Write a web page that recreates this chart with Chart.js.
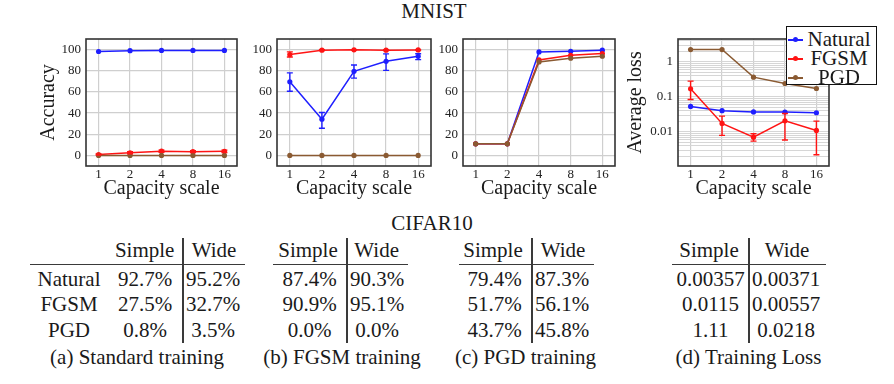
<!DOCTYPE html>
<html lang="en">
<head>
<meta charset="UTF-8">
<title>MNIST capacity scale / CIFAR10</title>
<script src="https://cdn.jsdelivr.net/npm/chart.js@4.4.1/dist/chart.umd.min.js"></script>
<style>
  * { box-sizing: border-box; }
  html, body { margin: 0; padding: 0; background: #fff; }
  body {
    width: 894px; height: 384px; position: relative; overflow: hidden;
    font-family: "Liberation Serif", "DejaVu Serif", serif; color: #1a1a1a;
  }
  canvas { position: absolute; }
  .txt { position: absolute; white-space: nowrap; text-align: center; height: 24px; line-height: 24px; font-size: 21px; }
  .rule { position: absolute; background: #3a3a3a; }
  #legend { position: absolute; left: 786px; top: 26px; width: 91px; height: 59px; border: 1.5px solid #111; background: #fff; }
  #legend .row { position: absolute; left: 0; width: 100%; height: 19px; }
  #legend .line { position: absolute; left: 1px; top: 9px; width: 15px; height: 1.5px; }
  #legend .dot { position: absolute; left: 6px; top: 7px; width: 5px; height: 5px; border-radius: 50%; }
  #legend .lab { position: absolute; left: 17px; width: 70px; top: 0; height: 19px; line-height: 19px; font-size: 21px; text-align: center; }
</style>
</head>
<body>
<canvas id="c1" width="211" height="175" style="left:30px;top:30px"></canvas>
<canvas id="c2" width="214" height="175" style="left:221px;top:30px"></canvas>
<canvas id="c3" width="212" height="175" style="left:407px;top:30px"></canvas>
<canvas id="c4" width="211" height="175" style="left:622px;top:30px"></canvas>
<div id="legend"></div>

<script>
// ---- data ----
const xLabels = ['1', '2', '4', '8', '16'];
const seriesNames = ['Natural', 'FGSM', 'PGD'];
const seriesColors = ['#1f1fff', '#ff1414', '#8a5a32'];

// (a) standard training, accuracy
const stdNatural = [98.2, 99.0, 99.2, 99.2, 99.2];
const stdFgsm = [0.8, 2.5, 4.0, 3.5, 3.9];
const stdFgsmLo = [0.3, 1.6, 3.0, 2.7, 2.8];
const stdFgsmHi = [1.4, 3.4, 5.0, 4.4, 5.0];
const stdPgd = [0, 0, 0, 0, 0];

// (b) FGSM training, accuracy
const fgsmNatural = [69.5, 34.2, 79.5, 88.9, 93.7];
const fgsmNaturalLo = [60.7, 25.6, 73.0, 80.4, 90.5];
const fgsmNaturalHi = [78.0, 40.5, 85.4, 95.9, 96.0];
const fgsmFgsm = [95.3, 99.4, 99.8, 99.4, 99.7];
const fgsmFgsmLo = [93.0, 99.0, 99.5, 99.0, 99.4];
const fgsmFgsmHi = [97.8, 99.8, 100, 99.8, 100];
const fgsmPgd = [0, 0, 0, 0, 0];

// (c) PGD training, accuracy
const pgdNatural = [11, 11, 97.8, 98.4, 99.4];
const pgdFgsm = [11, 11, 90.2, 94.6, 96.2];
const pgdPgd = [11, 11, 88.3, 91.8, 93.7];

// (d) average training loss
const lossNatural = [0.053, 0.040, 0.037, 0.0365, 0.035];
const lossFgsm = [0.17, 0.0173, 0.0070, 0.0206, 0.0109];
const lossFgsmLo = [0.084, 0.0079, 0.0054, 0.0058, 0.0022];
const lossFgsmHi = [0.28, 0.028, 0.0088, 0.0334, 0.0202];
const lossPgd = [2.25, 2.25, 0.365, 0.24, 0.173];

// CIFAR10 tables
const rowLabels = ['Natural', 'FGSM', 'PGD'];
const colLabels = ['Simple', 'Wide'];
const standardTable = [['92.7%', '95.2%'], ['27.5%', '32.7%'], ['0.8%', '3.5%']];
const fgsmTable = [['87.4%', '90.3%'], ['90.9%', '95.1%'], ['0.0%', '0.0%']];
const pgdTable = [['79.4%', '87.3%'], ['51.7%', '56.1%'], ['43.7%', '45.8%']];
const lossTable = [['0.00357', '0.00371'], ['0.0115', '0.00557'], ['1.11', '0.0218']];
const captions = ['(a) Standard training', '(b) FGSM training', '(c) PGD training', '(d) Training Loss'];

// ---- plugins ----
const errorBars = {
  id: 'errorBars',
  afterDatasetsDraw(chart) {
    const ctx = chart.ctx;
    const ys = chart.scales.y;
    chart.data.datasets.forEach((ds, di) => {
      if (!ds.errLow) return;
      const meta = chart.getDatasetMeta(di);
      ctx.save();
      ctx.strokeStyle = ds.borderColor;
      ctx.lineWidth = 1.4;
      meta.data.forEach((pt, i) => {
        const y1 = ys.getPixelForValue(ds.errLow[i]);
        const y2 = ys.getPixelForValue(ds.errHigh[i]);
        ctx.beginPath();
        ctx.moveTo(pt.x, y1); ctx.lineTo(pt.x, y2);
        ctx.moveTo(pt.x - 3, y1); ctx.lineTo(pt.x + 3, y1);
        ctx.moveTo(pt.x - 3, y2); ctx.lineTo(pt.x + 3, y2);
        ctx.stroke();
      });
      ctx.restore();
    });
  }
};

const frame = {
  id: 'frame',
  afterDraw(chart) {
    const a = chart.chartArea;
    const ctx = chart.ctx;
    ctx.save();
    ctx.strokeStyle = '#333';
    ctx.lineWidth = 1.6;
    ctx.strokeRect(a.left, a.top, a.right - a.left, a.bottom - a.top);
    ctx.restore();
  }
};

const serif = 'Liberation Serif';

function series(values, i, lo, hi) {
  const ds = {
    label: seriesNames[i],
    data: values.map((v, k) => ({ x: k, y: v })),
    borderColor: seriesColors[i],
    backgroundColor: seriesColors[i],
    borderWidth: 1.5,
    pointRadius: 2.6,
    pointBorderWidth: 0,
    tension: 0,
    order: 3 - i
  };
  if (lo) { ds.errLow = lo; ds.errHigh = hi; }
  return ds;
}

function noEdgePadding(s) {
  s.paddingTop = 0; s.paddingBottom = 0; s.paddingLeft = 0; s.paddingRight = 0;
}

function makeChart(id, datasets, yScale, yTitle, yTitlePad) {
  return new Chart(document.getElementById(id), {
    type: 'line',
    data: { datasets },
    plugins: [errorBars, frame],
    options: {
      responsive: false,
      animation: false,
      events: [],
      layout: { padding: { top: 9, right: 4, left: 0, bottom: 0 } },
      plugins: { legend: { display: false }, tooltip: { enabled: false } },
      scales: {
        x: {
          type: 'linear', min: -0.4, max: 4.4,
          afterBuildTicks: s => { s.ticks = xLabels.map((_, k) => ({ value: k })); },
          afterFit: s => { s.height = 39; noEdgePadding(s); },
          grid: { color: '#cfcfcf', lineWidth: 1.2, drawTicks: false },
          border: { display: false },
          ticks: {
            callback: v => xLabels[v], padding: 1, autoSkip: false, maxRotation: 0,
            color: '#222', font: { family: serif, size: 13 }
          },
          title: {
            display: true, text: 'Capacity scale', color: '#1a1a1a',
            font: { family: serif, size: 20 }, padding: { top: 0, bottom: 4 }
          }
        },
        y: Object.assign({
          afterFit: s => { s.width = 56; noEdgePadding(s); },
          border: { display: false },
          title: {
            display: !!yTitle, text: yTitle || '', color: '#1a1a1a',
            font: { family: serif, size: 20 }, padding: { top: yTitlePad, bottom: 0 }
          }
        }, yScale)
      }
    }
  });
}

const accTicks = [0, 20, 40, 60, 80, 100];
const accScale = {
  type: 'linear', min: -10, max: 110,
  afterBuildTicks: s => { s.ticks = accTicks.map(v => ({ value: v })); },
  grid: { color: '#cfcfcf', lineWidth: 1.2, drawTicks: false },
  ticks: { padding: 5, color: '#222', font: { family: serif, size: 13 } }
};

const lossMin = 0.00105, lossMax = 4.5;
const logScale = {
  type: 'logarithmic', min: lossMin, max: lossMax,
  afterBuildTicks: s => {
    const t = [];
    for (let e = -3; e <= 0; e++) {
      for (let m = 1; m <= 9; m++) {
        const v = +(m * Math.pow(10, e)).toPrecision(3);
        if (v >= lossMin && v <= lossMax) t.push({ value: v });
      }
    }
    s.ticks = t;
  },
  grid: { color: '#d6d6d6', lineWidth: 1, drawTicks: false },
  ticks: {
    padding: 5, autoSkip: false, color: '#222', font: { family: serif, size: 13 },
    callback: v => {
      const l = Math.log10(v);
      return (Math.abs(l - Math.round(l)) < 1e-6 && l > -2.5) ? String(v) : '';
    }
  }
};

makeChart('c1', [
  series(stdNatural, 0),
  series(stdFgsm, 1, stdFgsmLo, stdFgsmHi),
  series(stdPgd, 2)
], accScale, 'Accuracy', 7);

makeChart('c2', [
  series(fgsmNatural, 0, fgsmNaturalLo, fgsmNaturalHi),
  series(fgsmFgsm, 1, fgsmFgsmLo, fgsmFgsmHi),
  series(fgsmPgd, 2)
], accScale, null, 0);

makeChart('c3', [
  series(pgdNatural, 0),
  series(pgdFgsm, 1),
  series(pgdPgd, 2)
], accScale, null, 0);

makeChart('c4', [
  series(lossNatural, 0),
  series(lossFgsm, 1, lossFgsmLo, lossFgsmHi),
  series(lossPgd, 2)
], logScale, 'Average loss', 2);

// ---- legend ----
const legend = document.getElementById('legend');
seriesNames.forEach((name, i) => {
  const row = document.createElement('div');
  row.className = 'row';
  row.style.top = (3 + i * 19) + 'px';
  row.innerHTML = '<span class="line" style="background:' + seriesColors[i] + '"></span>' +
    '<span class="dot" style="background:' + seriesColors[i] + '"></span>' +
    '<span class="lab">' + name + '</span>';
  legend.appendChild(row);
});

// ---- titles and tables ----
function addText(text, cx, cy, size) {
  const d = document.createElement('div');
  d.className = 'txt';
  d.textContent = text;
  d.style.left = (cx - 150) + 'px';
  d.style.width = '300px';
  d.style.top = (cy - 12) + 'px';
  if (size) d.style.fontSize = size + 'px';
  document.body.appendChild(d);
}
function addRule(x, y, w, h) {
  const d = document.createElement('div');
  d.className = 'rule';
  Object.assign(d.style, { left: x + 'px', top: y + 'px', width: w + 'px', height: h + 'px' });
  document.body.appendChild(d);
}

addText('MNIST', 434, 11, 21);
addText('CIFAR10', 432, 223, 21);

const tableLayout = [
  { cells: standardTable, labelC: 69, ruleL: 30, div: 183, ruleR: 245, hs: 144.7, hw: 214, cs: 145, cw: 213, cap: 137 },
  { cells: fgsmTable, ruleL: 273, div: 347, ruleR: 408, hs: 308, hw: 376.7, cs: 309.5, cw: 377, cap: 342 },
  { cells: pgdTable, ruleL: 459, div: 532, ruleR: 594, hs: 493, hw: 563, cs: 494.5, cw: 562, cap: 525.5 },
  { cells: lossTable, ruleL: 672, div: 749, ruleR: 826, hs: 709, hw: 787, cs: 710.5, cw: 786, cap: 748.5 }
];
const headerY = 250, rowY = [279, 304, 330], captionY = 357;

tableLayout.forEach((t, k) => {
  addText(colLabels[0], t.hs, headerY);
  addText(colLabels[1], t.hw, headerY);
  t.cells.forEach((row, r) => {
    if (t.labelC) addText(rowLabels[r], t.labelC, rowY[r]);
    addText(row[0], t.cs, rowY[r]);
    addText(row[1], t.cw, rowY[r]);
  });
  addText(captions[k], t.cap, captionY);
  addRule(t.ruleL, 263.5, t.ruleR - t.ruleL, 1.4);
  addRule(t.div - 0.7, 238, 1.4, 105);
});
</script>
</body>
</html>
